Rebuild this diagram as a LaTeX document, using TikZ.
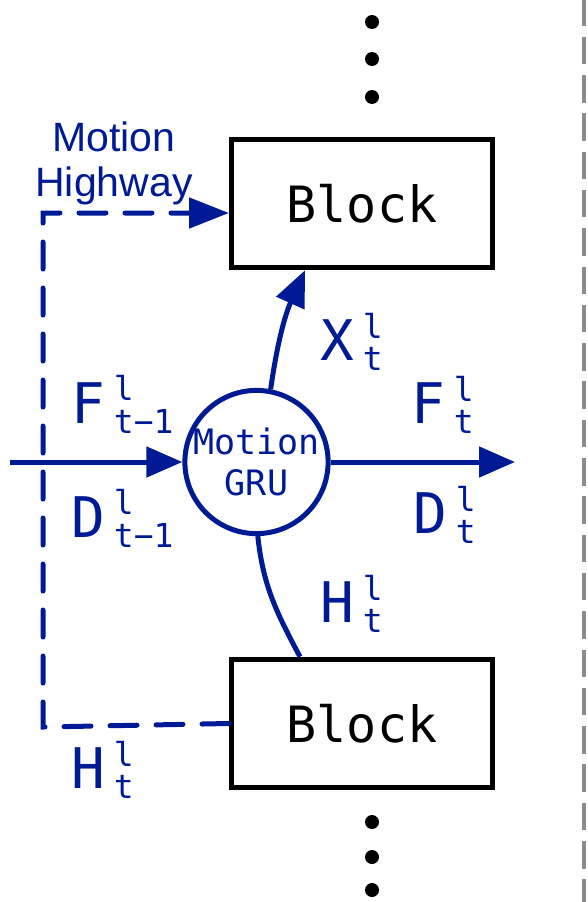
\documentclass[tikz,border=0pt]{standalone}
\usepackage{fontspec}
\setmainfont{Liberation Sans}
\newfontfamily\mono{DejaVu Sans Mono}
\usetikzlibrary{arrows.meta}
\definecolor{navy}{RGB}{0,26,150}
\definecolor{rulegray}{RGB}{140,140,140}
\newcommand\lab[3]{{\mono\fontsize{56}{56}\selectfont #1}\kern9pt\raisebox{-10.5pt}{\mono\fontsize{33}{28.5}\selectfont\renewcommand\arraystretch{1}\begin{tabular}[b]{@{}l@{}}#2\\#3\end{tabular}}}
\begin{document}
\begin{tikzpicture}[x=1pt,y=-1pt,
  blockbox/.style={draw=black,line width=5pt,minimum width=261pt,minimum height=128.5pt,inner sep=0pt,font=\mono\fontsize{50}{50}\selectfont},
  gru/.style={draw=navy,line width=5pt,circle,minimum size=141pt,inner sep=0pt,text=navy,align=center,font=\mono\fontsize{35}{41}\selectfont},
  flow/.style={draw=navy,line width=5pt,-{Triangle[length=36pt,width=30pt]}},
  plain/.style={draw=navy,line width=5pt},
  highway/.style={draw=navy,line width=5pt,line cap=round,dash pattern=on 27pt off 19pt,-{Triangle[length=40pt,width=30pt]}},
  lbl/.style={anchor=base west,inner sep=0pt,text=navy},
  dot/.style={circle,fill=black,minimum size=14pt,inner sep=0pt},
  sep/.style={draw=rulegray,line width=4pt,dash pattern=on 27.5pt off 10.8pt}]
\useasboundingbox (0,0) rectangle (587,902);
% right separator
\coordinate (s1) at (584,-1.6);
\coordinate (s2) at (584,902);
\draw[sep] (s1) -- (s2);
% blocks and GRU
\node[blockbox] (b1) at (362,203.5) {Block};
\node[blockbox] (b2) at (362,723.5) {Block};
\node[gru] (c) at (256.5,462) {Motion\\GRU};
% dots
\node[dot] (t1) at (372,22) {};
\node[dot] (t2) at (372,59) {};
\node[dot] (t3) at (372,97) {};
\node[dot] (u1) at (372,822) {};
\node[dot] (u2) at (372,857) {};
\node[dot] (u3) at (372,890) {};
% connectors
\coordinate (in) at (10,462);
\coordinate (out) at (515,462);
\draw[flow] (in) -- (c.west);
\draw[flow] (c.east) -- (out);
\draw[flow] (c.79) to[bend left=8] ([xshift=-57pt]b1.south);
\draw[plain] ([xshift=-62pt]b2.north) to[out=118,in=-84] (c.-89);
% motion highway
\coordinate (h1) at (43,727);
\coordinate (h2) at (43,213);
\draw[highway] (b2.west) -- (h1) -- (h2) -- ([yshift=-9.5pt]b1.west);
\node[text=navy,align=center,font=\fontsize{41}{45}\selectfont] (mh) at (114,163) {Motion\\Highway};
% labels
\node[lbl] (f1) at (71,423) {\lab{F}{l}{t−1}};
\node[lbl] (d1) at (71,537) {\lab{D}{l}{t−1}};
\node[lbl] (f2) at (411,423) {\lab{F}{l}{t}};
\node[lbl] (d2) at (413,533) {\lab{D}{l}{t}};
\node[lbl] (x1) at (320,360) {\lab{X}{l}{t}};
\node[lbl] (h3) at (320,622) {\lab{H}{l}{t}};
\node[lbl] (h4) at (71,788) {\lab{H}{l}{t}};
\end{tikzpicture}
\end{document}
